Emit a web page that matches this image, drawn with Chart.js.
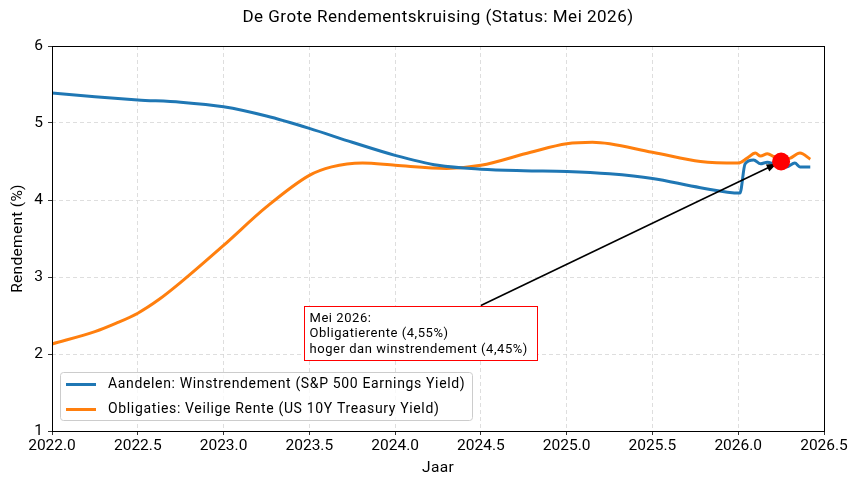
<!DOCTYPE html>
<html>
<head>
<meta charset="utf-8">
<script src="https://cdn.jsdelivr.net/npm/chart.js@4"></script>
<style>
html,body{margin:0;padding:0;background:#fff;}
#wrap{width:861px;height:487px;position:relative;}
</style>
</head>
<body>
<div id="wrap"><canvas id="c" width="861" height="487"></canvas></div>
<script>
const FONT = 'Roboto, "Noto Sans", sans-serif';
const titleText = 'De Grote Rendementskruising (Status: Mei 2026)';
const xTitle = 'Jaar';
const yTitle = 'Rendement (%)';
const legendLabels = ['Aandelen: Winstrendement (S&P 500 Earnings Yield)', 'Obligaties: Veilige Rente (US 10Y Treasury Yield)'];
const annotationLines = ['Mei 2026:', 'Obligatierente (4,55%)', 'hoger dan winstrendement (4,45%)'];

const xTicks = [2022.0, 2022.5, 2023.0, 2023.5, 2024.0, 2024.5, 2025.0, 2025.5, 2026.0, 2026.5];
const yTicks = [1, 2, 3, 4, 5, 6];

const stockYears = [2022.0, 2022.25, 2022.5, 2022.75, 2023.0, 2023.25, 2023.5, 2023.75, 2024.0, 2024.25, 2024.5, 2024.75, 2025.0, 2025.25, 2025.5, 2025.78, 2026.01, 2026.04, 2026.09, 2026.13, 2026.17, 2026.21, 2026.25, 2026.28, 2026.33, 2026.36, 2026.42];
const stockYield = [5.39, 5.34, 5.30, 5.27, 5.21, 5.09, 4.93, 4.75, 4.58, 4.45, 4.40, 4.38, 4.37, 4.34, 4.28, 4.16, 4.09, 4.47, 4.52, 4.47, 4.49, 4.47, 4.46, 4.43, 4.48, 4.43, 4.43];

const bondYears = [2022.0, 2022.25, 2022.375, 2022.5, 2022.625, 2022.75, 2023.0, 2023.25, 2023.5, 2023.63, 2023.81, 2024.0, 2024.3, 2024.5, 2024.79, 2025.0, 2025.15, 2025.5, 2025.78, 2026.0, 2026.05, 2026.1, 2026.13, 2026.17, 2026.21, 2026.25, 2026.3, 2026.36, 2026.42];
const bondYield = [2.13, 2.29, 2.40, 2.53, 2.71, 2.93, 3.41, 3.91, 4.32, 4.43, 4.48, 4.45, 4.41, 4.45, 4.62, 4.73, 4.75, 4.62, 4.50, 4.48, 4.54, 4.61, 4.57, 4.60, 4.56, 4.53, 4.54, 4.61, 4.53];

const markerPoint = {x: 2026.25, y: 4.50};
const arrowTail = {x: 2024.5, y: 2.63};

const BLUE = '#1f77b4', ORANGE = '#ff7f0e';

const toXY = (xs, ys) => xs.map((x, i) => ({x, y: ys[i]}));

const decor = {
  id: 'decor',
  afterDraw(chart) {
    const ctx = chart.ctx, a = chart.chartArea;
    const xs = chart.scales.x, ys = chart.scales.y;
    ctx.save();
    ctx.strokeStyle = '#000'; ctx.lineWidth = 1; ctx.setLineDash([]);
    ctx.strokeRect(Math.round(a.left) + 0.5, Math.round(a.top) + 0.5, Math.round(a.right - a.left), Math.round(a.bottom - a.top));
    ctx.fillStyle = '#000';
    ctx.textBaseline = 'middle';
    ctx.textAlign = 'left';
    const centered = (t, cx, cy) => { const w = ctx.measureText(t).width; ctx.fillText(t, cx - w / 2, cy); };
    ctx.font = '17px ' + FONT;
    ctx.letterSpacing = '0.5px';
    centered(titleText, (a.left + a.right) / 2, 18);
    ctx.font = '15.5px ' + FONT;
    ctx.letterSpacing = '0.3px';
    centered(xTitle, (a.left + a.right) / 2, 468);
    ctx.save();
    ctx.translate(18, (a.top + a.bottom) / 2);
    ctx.rotate(-Math.PI / 2);
    centered(yTitle, 0, 0);
    ctx.restore();

    const tx = xs.getPixelForValue(arrowTail.x), ty = ys.getPixelForValue(arrowTail.y);
    const mx = xs.getPixelForValue(markerPoint.x), my = ys.getPixelForValue(markerPoint.y);
    const ang = Math.atan2(my - ty, mx - tx);
    const hx = mx - Math.cos(ang) * 5, hy = my - Math.sin(ang) * 5;
    ctx.strokeStyle = '#000'; ctx.lineWidth = 1.6;
    ctx.beginPath(); ctx.moveTo(tx, ty); ctx.lineTo(hx - Math.cos(ang) * 6, hy - Math.sin(ang) * 6); ctx.stroke();
    ctx.fillStyle = '#000';
    ctx.beginPath();
    ctx.moveTo(hx, hy);
    ctx.lineTo(hx - Math.cos(ang) * 10 + Math.sin(ang) * 4, hy - Math.sin(ang) * 10 - Math.cos(ang) * 4);
    ctx.lineTo(hx - Math.cos(ang) * 10 - Math.sin(ang) * 4, hy - Math.sin(ang) * 10 + Math.cos(ang) * 4);
    ctx.closePath(); ctx.fill();

    ctx.fillStyle = '#ff0000';
    ctx.beginPath(); ctx.arc(mx, my, 9, 0, Math.PI * 2); ctx.fill();

    ctx.font = '13px ' + FONT;
    ctx.letterSpacing = '0.55px';
    const bx = 304.5, by = 306.5, bw = 233, bh = 54;
    ctx.fillStyle = '#fff'; ctx.fillRect(bx, by, bw, bh);
    ctx.strokeStyle = '#ff0000'; ctx.lineWidth = 1;
    ctx.strokeRect(bx, by, bw, bh);
    ctx.fillStyle = '#000';
    annotationLines.forEach((t, i) => ctx.fillText(t, bx + 5, by + 12 + i * 15.5));

    const lx = 60.5, ly = 372.5, lw = 412, lh = 48;
    ctx.fillStyle = 'rgba(255,255,255,0.8)';
    ctx.beginPath(); ctx.roundRect(lx, ly, lw, lh, 3); ctx.fill();
    ctx.strokeStyle = '#cccccc'; ctx.lineWidth = 1; ctx.stroke();
    ctx.font = '14px ' + FONT;
    ctx.letterSpacing = '0.65px';
    [BLUE, ORANGE].forEach((c, i) => {
      const yy = 384.5 + i * 25;
      ctx.strokeStyle = c; ctx.lineWidth = 3;
      ctx.beginPath(); ctx.moveTo(66, yy); ctx.lineTo(96, yy); ctx.stroke();
      ctx.fillStyle = '#000';
      ctx.fillText(legendLabels[i], 108, yy);
    });
    ctx.restore();
  }
};

new Chart(document.getElementById('c'), {
  type: 'line',
  data: {
    datasets: [
      {label: legendLabels[0], data: toXY(stockYears, stockYield), borderColor: BLUE, borderWidth: 3, pointRadius: 0, cubicInterpolationMode: 'monotone', fill: false},
      {label: legendLabels[1], data: toXY(bondYears, bondYield), borderColor: ORANGE, borderWidth: 3, pointRadius: 0, cubicInterpolationMode: 'monotone', fill: false}
    ]
  },
  options: {
    responsive: false,
    animation: false,
    events: [],
    layout: {padding: {left: 0, right: 37, top: 46, bottom: 0}},
    plugins: {legend: {display: false}, title: {display: false}, tooltip: {enabled: false}},
    scales: {
      x: {
        type: 'linear', min: 2022, max: 2026.5,
        afterBuildTicks: s => { s.ticks = xTicks.map(v => ({value: v})); },
        afterFit: s => { s.height = 56; },
        ticks: {color: '#000', font: {family: FONT, size: 15.5}, padding: 2, maxRotation: 0, autoSkip: false, callback: v => v.toFixed(1)},
        grid: {color: '#d6d6d6', lineWidth: 0.8, tickColor: '#000', tickLength: 4, drawTicks: true},
        border: {display: false, dash: [4, 3]}
      },
      y: {
        type: 'linear', min: 1, max: 6,
        afterBuildTicks: s => { s.ticks = yTicks.map(v => ({value: v})); },
        afterFit: s => { s.width = 52; },
        ticks: {color: '#000', font: {family: FONT, size: 15.5}, padding: 5, autoSkip: false},
        grid: {color: '#d6d6d6', lineWidth: 0.8, tickColor: '#000', tickLength: 4, drawTicks: true},
        border: {display: false, dash: [4, 3]}
      }
    }
  },
  plugins: [decor]
});
</script>
</body>
</html>
